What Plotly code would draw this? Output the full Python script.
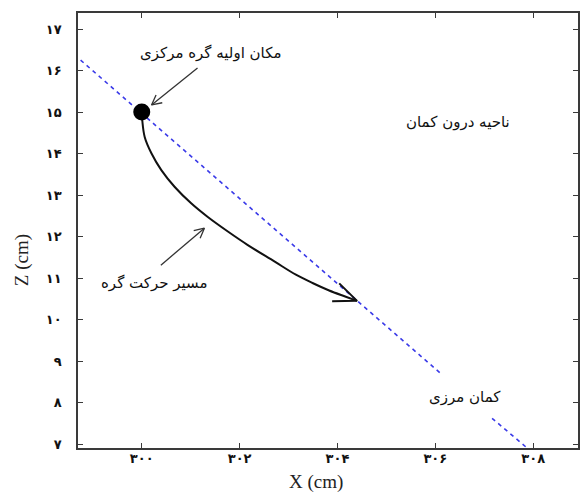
import math
import plotly.graph_objects as go

# ---------------- data ----------------
x_ticks = [300, 302, 304, 306, 308]
x_tick_labels = ["۳۰۰", "۳۰۲", "۳۰۴", "۳۰۶", "۳۰۸"]
z_ticks = [7, 8, 9, 10, 11, 12, 13, 14, 15, 16, 17]
z_tick_labels = ["۷", "۸", "۹", "۱۰", "۱۱", "۱۲", "۱۳", "۱۴", "۱۵", "۱۶", "۱۷"]

# boundary arc (blue dashed), two pieces separated by its label
boundary1_x = [298.75, 306.10]
boundary1_z = [16.25, 8.71]
boundary2_x = [307.16, 307.95]
boundary2_z = [7.62, 6.83]

# initial position of central node
start_x = [300.0]
start_z = [15.0]

# node trajectory
path_x = [300.0, 300.01, 300.06, 300.20, 300.40, 300.67, 301.01, 301.35,
          301.76, 302.16, 302.71, 303.15, 303.49, 303.83, 304.17, 304.40]
path_z = [15.0, 14.81, 14.40, 14.00, 13.60, 13.20, 12.80, 12.47,
          12.12, 11.80, 11.40, 11.08, 10.88, 10.70, 10.55, 10.45]

# text labels
label_texts = ["مکان اولیه گره مرکزی", "مسیر حرکت گره", "ناحیه درون کمان", "کمان مرزی"]
label_x = [301.42, 300.26, 306.47, 306.60]
label_z = [16.42, 10.88, 14.76, 8.13]

# pointer arrows (tail -> head)
pointer_tail_x = [301.14, 300.39]
pointer_tail_z = [16.06, 11.31]
pointer_head_x = [300.20, 301.28]
pointer_head_z = [15.17, 12.20]

# ---------------- layout geometry ----------------
W, H = 580, 492
ML, MR, MT, MB = 78, 0, 13, 44
x_range = [298.697, 308.916]
z_range = [6.904, 17.386]
sx = (W - ML - MR) / (x_range[1] - x_range[0])   # px per x unit
sz = (H - MT - MB) / (z_range[1] - z_range[0])   # px per z unit


def v_head(tx, tz, hx, hz, length, half_angle_deg):
    """Return x, z lists for an open V arrowhead at (hx, hz) pointing away from (tx, tz)."""
    ux = (tx - hx) * sx
    uz = (tz - hz) * sz
    n = math.hypot(ux, uz)
    ux, uz = ux / n, uz / n
    xs, zs = [], []
    for sgn in (1, -1):
        a = math.radians(half_angle_deg) * sgn
        rx = ux * math.cos(a) - uz * math.sin(a)
        rz = ux * math.sin(a) + uz * math.cos(a)
        xs.append(hx + rx * length / sx)
        zs.append(hz + rz * length / sz)
    return [xs[0], hx, xs[1]], [zs[0], hz, zs[1]]


fig = go.Figure()

blue = "#3a3ae8"
for bx, bz in ((boundary1_x, boundary1_z), (boundary2_x, boundary2_z)):
    fig.add_trace(go.Scatter(x=bx, y=bz, mode="lines",
                             line=dict(color=blue, width=1.6, dash="4px,4px"),
                             showlegend=False, hoverinfo="skip"))

fig.add_trace(go.Scatter(x=path_x, y=path_z, mode="lines",
                         line=dict(color="#111111", width=2, shape="spline", smoothing=1.0),
                         showlegend=False, hoverinfo="skip"))

# arrowhead at the end of the trajectory
ahx, ahz = v_head(path_x[-4], path_z[-4], path_x[-1], path_z[-1], 25, 22.5)
fig.add_trace(go.Scatter(x=ahx, y=ahz, mode="lines",
                         line=dict(color="#111111", width=2),
                         showlegend=False, hoverinfo="skip"))

fig.add_trace(go.Scatter(x=start_x, y=start_z, mode="markers",
                         marker=dict(color="black", size=17, symbol="circle"),
                         showlegend=False, hoverinfo="skip"))

# pointer arrows
for i in range(len(pointer_tail_x)):
    fig.add_trace(go.Scatter(x=[pointer_tail_x[i], pointer_head_x[i]],
                             y=[pointer_tail_z[i], pointer_head_z[i]],
                             mode="lines", line=dict(color="#333333", width=1.3),
                             showlegend=False, hoverinfo="skip"))
    hx, hz = v_head(pointer_tail_x[i], pointer_tail_z[i],
                    pointer_head_x[i], pointer_head_z[i], 11, 27)
    fig.add_trace(go.Scatter(x=hx, y=hz, mode="lines",
                             line=dict(color="#333333", width=1.3),
                             showlegend=False, hoverinfo="skip"))

for t, lx, lz in zip(label_texts, label_x, label_z):
    fig.add_annotation(x=lx, y=lz, text=t, showarrow=False,
                       font=dict(family="DejaVu Sans", size=15, color="#111111"),
                       xanchor="center", yanchor="middle")

# axis titles
fig.add_annotation(xref="paper", yref="paper",
                   x=(317 - ML) / (W - ML - MR), y=-(482 - (H - MB)) / (H - MT - MB),
                   text="X (cm)", showarrow=False,
                   font=dict(family="Liberation Serif", size=19, color="#222222"),
                   xanchor="center", yanchor="middle")
fig.add_annotation(xref="paper", yref="paper",
                   x=-(ML - 22) / (W - ML - MR), y=((H - MB) - 260) / (H - MT - MB),
                   text="Z (cm)", showarrow=False, textangle=-90,
                   font=dict(family="Liberation Serif", size=19, color="#222222"),
                   xanchor="center", yanchor="middle")

axis_common = dict(showgrid=False, zeroline=False, showline=True,
                   linecolor="#3a3a3a", linewidth=1.6, mirror="ticks",
                   ticks="inside", ticklen=5, tickwidth=1.4, tickcolor="#3a3a3a",
                   tickfont=dict(family="DejaVu Sans", size=13, color="#111111",
                                 weight="bold"))

fig.update_layout(
    width=W, height=H,
    margin=dict(l=ML, r=MR, t=MT, b=MB, pad=0),
    paper_bgcolor="white", plot_bgcolor="white",
    xaxis=dict(range=x_range, tickmode="array", tickvals=x_ticks,
               ticktext=x_tick_labels, ticklabelstandoff=-2, **axis_common),
    yaxis=dict(range=z_range, tickmode="array", tickvals=z_ticks,
               ticktext=z_tick_labels, ticklabelstandoff=12, **axis_common),
    showlegend=False,
)

fig.write_html("out.html",
               config={"displayModeBar": False},
               post_script="document.body.style.margin='0';"
                           "document.body.style.overflow='hidden';")
